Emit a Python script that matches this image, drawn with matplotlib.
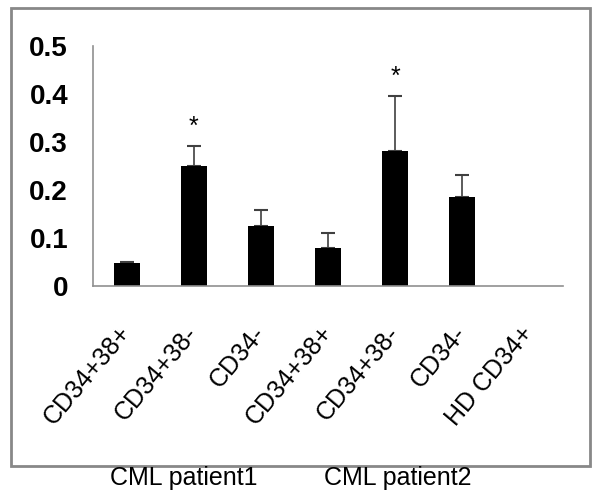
import matplotlib.pyplot as plt
from matplotlib.patches import Rectangle

plt.rcParams['font.family'] = ['Liberation Sans', 'DejaVu Sans']

labels = ['CD34+38+', 'CD34+38-', 'CD34-', 'CD34+38+', 'CD34+38-', 'CD34-', 'HD CD34+']
values = [0.048, 0.25, 0.125, 0.079, 0.281, 0.185, 0.0]
errors = [0.002, 0.042, 0.033, 0.031, 0.115, 0.046, 0.0]
stars = [1, 4]
groups = ['CML patient1', 'CML patient2']

fig = plt.figure(figsize=(5.93, 4.92), dpi=100)
ax = fig.add_axes([0.157, 0.419, 0.792, 0.488])

x = list(range(len(labels)))
ax.bar(x, values, width=0.39, color='black', zorder=2)
ax.errorbar(x[:-1], values[:-1], yerr=[[0] * (len(x) - 1), errors[:-1]], fmt='none',
            ecolor='#404040', elinewidth=1.2, capsize=5, capthick=1.5, zorder=1)
for i in stars:
    ax.text(i, values[i] + errors[i] + 0.04, '*', ha='center', va='center', fontsize=18)

ax.set_xlim(-0.5, len(labels) - 0.5)
ax.set_ylim(0, 0.5)
ax.set_yticks([0, 0.1, 0.2, 0.3, 0.4, 0.5])
ax.set_yticklabels(['0', '0.1', '0.2', '0.3', '0.4', '0.5'], fontsize=20, fontweight='bold')
ax.set_xticks(x)
ax.set_xticklabels(labels, rotation=50, ha='right', va='center',
                   rotation_mode='anchor', fontsize=18)
ax.tick_params(axis='both', length=0)
ax.tick_params(axis='y', pad=18)
ax.tick_params(axis='x', pad=31)
for s in ['top', 'right']:
    ax.spines[s].set_visible(False)
for s in ['left', 'bottom']:
    ax.spines[s].set_color('#909090')
    ax.spines[s].set_linewidth(1.2)

fig.patches.append(Rectangle((11 / 593, 1 - 466 / 492), 579 / 593, 458 / 492,
                             transform=fig.transFigure, fill=False,
                             edgecolor='#888888', linewidth=2))
fig.text(184 / 593, 1 - 478 / 492, groups[0], ha='center', va='center', fontsize=18)
fig.text(398 / 593, 1 - 478 / 492, groups[1], ha='center', va='center', fontsize=18)

plt.savefig('out.png', dpi=100)
